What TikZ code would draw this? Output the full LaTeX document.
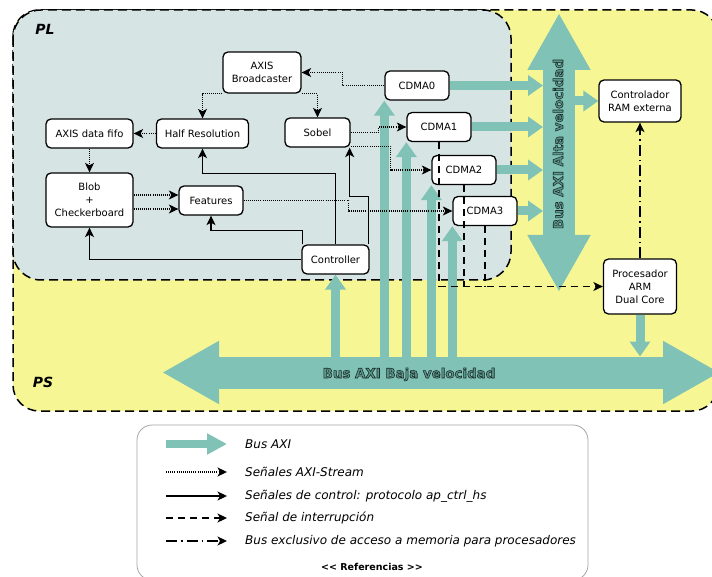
\documentclass[tikz,border=0pt]{standalone}
\usepackage{fontspec}
\setmainfont{DejaVu Sans}
\usetikzlibrary{arrows.meta,calc}
\definecolor{plbg}{RGB}{214,228,228}
\definecolor{psbg}{RGB}{247,246,148}
\definecolor{busc}{RGB}{128,194,181}
\definecolor{bustext}{RGB}{92,150,139}
\definecolor{legb}{RGB}{165,165,165}
\newcommand{\outlinedtext}[1]{\special{pdf:literal direct 2 Tr 0.55 w 0.1 0.16 0.15 RG}#1\special{pdf:literal direct 0 Tr}}
\pgfdeclarelayer{bg}
\pgfdeclarelayer{mid}
\pgfsetlayers{bg,mid,main}
\begin{document}
\begin{tikzpicture}[x=1pt,y=-1pt,
  box/.style={draw=black,line width=1.3pt,fill=white,rounded corners=5pt,align=center,inner sep=0pt,font=\fontsize{10}{13}\selectfont},
  arrowtip/.style={-{Stealth[length=9.5pt,width=9pt,inset=2.5pt]}},
  stream/.style={arrowtip,line width=1.1pt,dash pattern=on 1pt off 1.1pt},
  ctrlline/.style={arrowtip,line width=1.3pt},
  intrl/.style={line width=1.3pt,dash pattern=on 7pt off 5pt},
  intr/.style={intrl,arrowtip},
  membus/.style={arrowtip,line width=1.3pt,dash pattern=on 11pt off 4pt on 1.5pt off 4pt},
  smallbus/.style={draw=busc,line width=9pt,-{Triangle[length=15pt,width=20pt]}},
  bigbus/.style={draw=busc,line width=32pt,{Triangle[length=57pt,width=59pt]}-{Triangle[length=57pt,width=59pt]}},
  region/.style={line width=1.5pt,dash pattern=on 9pt off 5pt},
  zone/.style={font=\fontsize{14}{14}\selectfont\bfseries\itshape},
  buslabel/.style={font=\fontsize{13.4}{14}\selectfont\bfseries,text=bustext,inner sep=0pt},
  legtext/.style={anchor=west,inner sep=0pt,font=\fontsize{12}{14}\selectfont\itshape},
]
\useasboundingbox (0,0) rectangle (712,577);

% ---- nodes ----
\node[box,minimum width=78pt,minimum height=41pt] (bc) at (262,72.5) {AXIS\\Broadcaster};
\node[box,minimum width=92pt,minimum height=29pt] (hr) at (202.5,133.5) {Half Resolution};
\node[box,minimum width=87pt,minimum height=29pt] (fifo) at (89.5,133.5) {AXIS data fifo};
\node[box,minimum width=65pt,minimum height=29pt] (sobel) at (317.5,132.5) {Sobel};
\node[box,minimum width=87pt,minimum height=54pt] (blob) at (89.5,200) {Blob\\+\\Checkerboard};
\node[box,minimum width=64pt,minimum height=29pt] (feat) at (211,200.5) {Features};
\node[box,minimum width=67pt,minimum height=29pt] (ctrl) at (335.5,259.5) {Controller};
\node[box,minimum width=64pt,minimum height=29pt] (c0) at (417,85.5) {CDMA0};
\node[box,minimum width=64pt,minimum height=29pt] (c1) at (439,127) {CDMA1};
\node[box,minimum width=64pt,minimum height=29pt] (c2) at (464,170) {CDMA2};
\node[box,minimum width=64pt,minimum height=29pt] (c3) at (485,211) {CDMA3};
\node[box,minimum width=82pt,minimum height=42pt] (ram) at (640,101) {Controlador\\RAM externa};
\node[box,minimum width=73pt,minimum height=55pt] (arm) at (640,286.5) {Procesador\\ARM\\Dual Core};

% ---- regions ----
\begin{pgfonlayer}{bg}
\draw[region,fill=psbg,rounded corners=26pt] (13,10) rectangle (718,411);
\draw[region,fill=plbg,rounded corners=28pt] (13,10) rectangle (511,280);
\end{pgfonlayer}

\node[zone] (pl) at (45,29) {PL};
\node[zone] (ps) at (43,382) {PS};

% ---- buses ----
\coordinate (hbtop) at (559,13);
\coordinate (hbbot) at (559,292);
\coordinate (lbl) at (162,372.5);
\coordinate (lbr) at (720,372.5);
\coordinate (lbc) at (400,372.5);
\coordinate (lbt) at (400,356.5);
\coordinate (hbl) at (543,150);
\coordinate (hbr) at (575,101);
\begin{pgfonlayer}{mid}
\draw[bigbus] (hbbot) -- (hbtop);
\draw[bigbus] (lbl) -- (lbr);
\draw[smallbus] (ctrl.south |- lbc) -- (ctrl.south);
\draw[smallbus] (c0.south west |- lbc) -- (c0.south west);
\draw[smallbus] (c1.south west |- lbc) -- (c1.south west);
\draw[smallbus] (c2.south west |- lbc) -- (c2.south west);
\draw[smallbus] (c3.south west |- lbc) -- (c3.south west);
\draw[smallbus] (arm.south) -- (arm.south |- lbt);
\draw[smallbus] (c0.east) -- (c0.east -| hbl);
\draw[smallbus] (c1.east) -- (c1.east -| hbl);
\draw[smallbus] (c2.east) -- (c2.east -| hbl);
\draw[smallbus] (c3.east) -- (c3.east -| hbl);
\draw[smallbus] (ram.west -| hbr) -- (ram.west);
\end{pgfonlayer}
\node[buslabel,rotate=90,anchor=base] (hblab) at (563,144) {\outlinedtext{Bus AXI Alta velocidad}};
\node[buslabel,anchor=base] (lblab) at (409,378) {\outlinedtext{Bus AXI Baja velocidad}};

% ---- AXI-Stream ----
\draw[stream] (c0.west) -- ++(-42,0) |- (bc.east);
\draw[stream] (bc.south west) -| (hr.north);
\draw[stream] (bc.south east) -| (sobel.north);
\draw[stream] (hr.west) -- (fifo.east);
\draw[stream] (fifo.south) -- (blob.north);
\coordinate (b1) at ($(blob.east)+(0,-5)$);
\coordinate (b2) at ($(blob.east)+(0,9)$);
\draw[stream] (b1) -- (b1 -| feat.west);
\draw[stream] (b2) -- (b2 -| feat.west);
\draw[stream] (feat.east) -- ++(105,0) |- (c3.west);
\draw[stream] (sobel.east) -- ++(28,0) |- (c1.west);
\draw[stream] ($(sobel.south east)+(0,-1.5)$) -- ++(40,0) |- (c2.west);

% ---- control ----
\coordinate (k1) at ($(hr.south)+(0,25)$);
\draw[ctrlline] (ctrl.north) |- (k1) -- (hr.south);
\coordinate (k2) at ($(feat.south)+(0,15)$);
\draw[ctrlline] ($(ctrl.north west)+(1,0)$) |- (k2) -- (feat.south);
\draw[ctrlline] (ctrl.west) -| (blob.south);
\coordinate (k3) at ($(sobel.south east)+(-1,49)$);
\draw[ctrlline] ($(ctrl.north east)+(-1,0)$) |- (k3) -- (k3 |- sobel.south);

% ---- interrupts ----
\draw[intr] (c1.south) |- (arm.west);
\draw[intrl] (c2.south) -- (c2.south |- arm.west);
\draw[intrl] (c3.south) -- (c3.south |- arm.west);

% ---- memory bus ----
\draw[membus] (arm.north) -- (ram.south);

% ---- legend ----
\draw[legb,line width=0.8pt,rounded corners=15pt,fill=white] (137,425) rectangle (588,580);
\coordinate (la1) at (166,444); \coordinate (lb1) at (227,444);
\coordinate (la2) at (166,472); \coordinate (lb2) at (227,472);
\coordinate (la3) at (166,496); \coordinate (lb3) at (227,496);
\coordinate (la4) at (166,518); \coordinate (lb4) at (227,518);
\coordinate (la5) at (166,541); \coordinate (lb5) at (227,541);
\draw[draw=busc,line width=8pt,-{Triangle[length=20pt,width=20pt]}] (la1) -- (lb1);
\draw[stream] (la2) -- (lb2);
\draw[ctrlline] (la3) -- (lb3);
\draw[intr] (la4) -- (lb4);
\draw[membus] (la5) -- (lb5);
\node[legtext] (t1) at (245,444) {Bus AXI};
\node[legtext] (t2) at (245,472) {Señales AXI-Stream};
\node[legtext] (t3) at (245,496) {Señales de control: protocolo ap\_ctrl\_hs};
\node[legtext] (t4) at (245,518) {Señal de interrupción};
\node[legtext] (t5) at (245,541) {Bus exclusivo de acceso a memoria para procesadores};
\node[font=\fontsize{9.5}{11}\selectfont\bfseries,inner sep=0pt] (ref) at (372,567) {{<}{<} Referencias {>}{>}};
\end{tikzpicture}
\end{document}
